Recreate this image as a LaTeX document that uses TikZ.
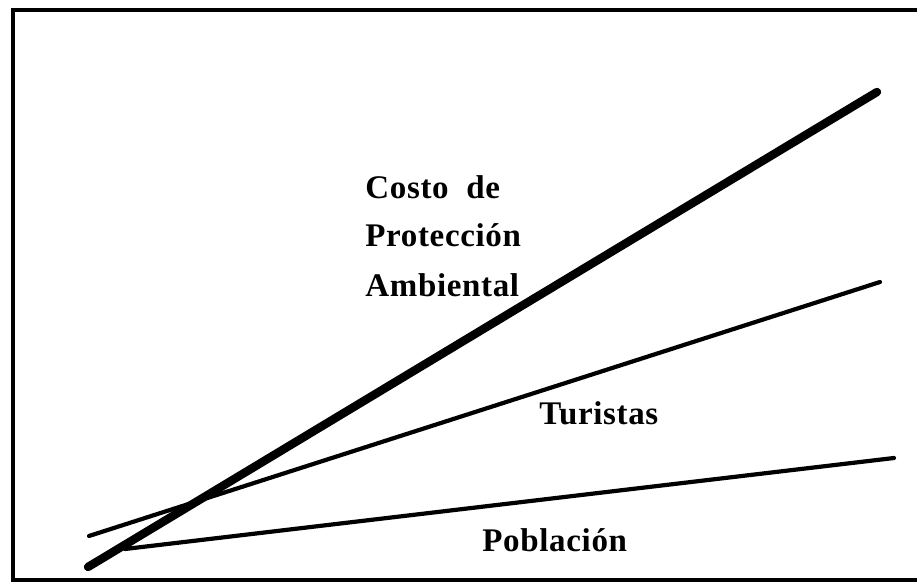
\documentclass[tikz,border=0pt]{standalone}
\usepackage{fontspec}
\setmainfont{Liberation Serif}
\newfontfamily\labelfont[LetterSpace=2]{Liberation Serif}
\begin{document}
\begin{tikzpicture}[x=0.5pt,y=-0.5pt]
                \useasboundingbox (0,0) rectangle (917,582);
                {\labelfont\bfseries\fontsize{16.5}{18}\selectfont

                % Frame (open at the right)
                \draw [line width=1.6pt] (917,10) -- (13,10) -- (13,580) -- (917,580);%

                % End points of the three lines
                \coordinate (C0) at (88,567);%
                \coordinate (C1) at (877,92);%
                \coordinate (T0) at (89,536);%
                \coordinate (T1) at (880,282);%
                \coordinate (P0) at (125,549);%
                \coordinate (P1) at (894,458);%

                % Drawing line Costo de Proteccion Ambiental
                \draw [line width=4.2pt, line cap=round] (C0) -- (C1);%

                % Drawing line Turistas
                \draw [line width=2.1pt, line cap=round] (T0) -- (T1);%

                % Drawing line Poblacion
                \draw [line width=2.1pt, line cap=round] (P0) -- (P1);%

                % Labels
                \node (costo) [anchor=base west, inner sep=0pt] at (365,199) {Costo\ \ de};%
                \node (proteccion) [anchor=base west, inner sep=0pt] at (365,247) {Protección};%
                \node (ambiental) [anchor=base west, inner sep=0pt] at (365,297) {Ambiental};%
                \node (turistas) [anchor=base west, inner sep=0pt] at (539,425) {Turistas};%
                \node (poblacion) [anchor=base west, inner sep=0pt] at (482,552) {Población};%
                }
\end{tikzpicture}
\end{document}
